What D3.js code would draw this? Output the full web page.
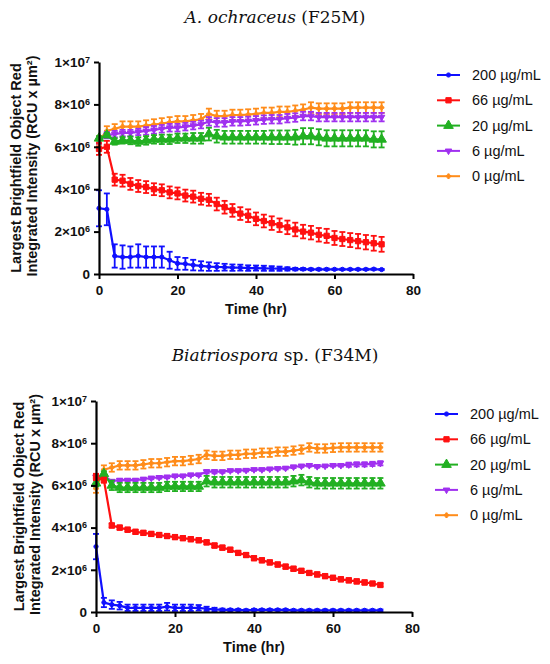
<!DOCTYPE html>
<html>
<head>
<meta charset="utf-8">
<script src="https://cdn.jsdelivr.net/npm/d3@7"></script>
<style>
  body { margin: 0; background: #fff; }
  svg { display: block; font-family: "Liberation Sans", Arial, sans-serif; }
</style>
</head>
<body>
<script>
// sampling times (hr)
const hours = [0, 2, 4, 6, 8, 10, 12, 14, 16, 18, 20, 22, 24, 26, 28, 30, 32, 34, 36,
  38, 40, 42, 44, 46, 48, 50, 52, 54, 56, 58, 60, 62, 64, 66, 68, 70, 72];

const concLabels = ["200 µg/mL", "66 µg/mL", "20 µg/mL", "6 µg/mL", "0 µg/mL"];
const seriesColors = ["#1010ff", "#ff1010", "#22b022", "#a030f0", "#ff8c1a"];
const yTicks = [0, 2e6, 4e6, 6e6, 8e6, 1e7];
const xTicks = [0, 20, 40, 60, 80];

// A. ochraceus (F25M), values in 10^6 RCU x µm²
const f25m200 = [3.1, 3.05, 0.85, 0.8, 0.8, 0.85, 0.8, 0.8, 0.8, 0.65, 0.5, 0.48, 0.42, 0.38, 0.35, 0.33, 0.32, 0.3, 0.3,
  0.28, 0.28, 0.27, 0.26, 0.25, 0.24, 0.23, 0.23, 0.22, 0.22, 0.22, 0.22, 0.22, 0.22, 0.22, 0.22, 0.23, 0.21];
const f25m200Err = [0.85, 0.75, 0.55, 0.55, 0.5, 0.55, 0.5, 0.5, 0.5, 0.4, 0.3, 0.28, 0.25, 0.22, 0.2, 0.18, 0.16, 0.15, 0.14,
  0.13, 0.12, 0.12, 0.11, 0.1, 0.08, 0.06, 0.05, 0.04, 0.04, 0.04, 0.03, 0.03, 0.03, 0.03, 0.03, 0.03, 0.03];
const f25m66 = [5.9, 6.0, 4.45, 4.4, 4.25, 4.15, 4.1, 4.0, 3.95, 3.85, 3.8, 3.7, 3.65, 3.55, 3.5, 3.3, 3.15, 3.0, 2.85,
  2.75, 2.6, 2.5, 2.4, 2.3, 2.2, 2.1, 2.0, 1.95, 1.85, 1.8, 1.7, 1.65, 1.6, 1.55, 1.5, 1.45, 1.4];
const f25m66Err = [0.28, 0.28, 0.28, 0.28, 0.28, 0.28, 0.28, 0.28, 0.28, 0.28, 0.28, 0.28, 0.28, 0.28, 0.28, 0.3, 0.3, 0.3, 0.3,
  0.3, 0.3, 0.3, 0.32, 0.32, 0.32, 0.32, 0.32, 0.32, 0.32, 0.33, 0.33, 0.33, 0.33, 0.34, 0.34, 0.35, 0.35];
const f25m20 = [6.4, 6.55, 6.25, 6.3, 6.3, 6.25, 6.3, 6.35, 6.35, 6.35, 6.4, 6.4, 6.4, 6.4, 6.6, 6.5, 6.45, 6.45, 6.45,
  6.45, 6.45, 6.45, 6.45, 6.45, 6.45, 6.45, 6.5, 6.5, 6.45, 6.4, 6.4, 6.4, 6.4, 6.4, 6.4, 6.35, 6.35];
const f25m20Err = [0.1, 0.1, 0.15, 0.15, 0.18, 0.2, 0.2, 0.2, 0.22, 0.22, 0.22, 0.22, 0.25, 0.25, 0.3, 0.3, 0.3, 0.3, 0.3,
  0.3, 0.3, 0.3, 0.32, 0.32, 0.32, 0.35, 0.38, 0.38, 0.38, 0.38, 0.38, 0.38, 0.38, 0.38, 0.38, 0.38, 0.38];
const f25m6 = [6.3, 6.55, 6.6, 6.65, 6.65, 6.7, 6.75, 6.8, 6.85, 6.9, 6.9, 6.95, 7.0, 7.05, 7.2, 7.15, 7.15, 7.2, 7.2,
  7.22, 7.25, 7.28, 7.3, 7.3, 7.35, 7.38, 7.45, 7.45, 7.4, 7.4, 7.4, 7.4, 7.4, 7.4, 7.4, 7.4, 7.4];
const f25m6Err = [0.15, 0.15, 0.15, 0.15, 0.15, 0.15, 0.18, 0.18, 0.18, 0.18, 0.18, 0.18, 0.18, 0.18, 0.2, 0.2, 0.2, 0.2, 0.2,
  0.2, 0.2, 0.2, 0.2, 0.2, 0.2, 0.2, 0.2, 0.2, 0.2, 0.2, 0.2, 0.2, 0.2, 0.2, 0.2, 0.2, 0.2];
const f25m0 = [6.3, 6.75, 6.85, 6.95, 6.95, 6.95, 7.0, 7.05, 7.1, 7.15, 7.2, 7.2, 7.25, 7.3, 7.55, 7.45, 7.45, 7.5, 7.5,
  7.52, 7.55, 7.6, 7.6, 7.65, 7.65, 7.7, 7.75, 7.85, 7.8, 7.8, 7.8, 7.8, 7.85, 7.85, 7.85, 7.85, 7.85];
const f25m0Err = [0.2, 0.22, 0.22, 0.25, 0.25, 0.25, 0.25, 0.25, 0.25, 0.25, 0.25, 0.25, 0.25, 0.25, 0.25, 0.25, 0.25, 0.25, 0.25,
  0.25, 0.25, 0.25, 0.25, 0.25, 0.25, 0.25, 0.25, 0.25, 0.25, 0.25, 0.25, 0.25, 0.25, 0.25, 0.25, 0.25, 0.25];

// Biatriospora sp. (F34M)
const f34m200 = [3.1, 0.45, 0.35, 0.3, 0.2, 0.2, 0.2, 0.2, 0.2, 0.25, 0.2, 0.2, 0.2, 0.2, 0.15, 0.12, 0.1, 0.1, 0.1,
  0.08, 0.1, 0.1, 0.1, 0.1, 0.1, 0.08, 0.08, 0.08, 0.08, 0.08, 0.08, 0.08, 0.08, 0.08, 0.08, 0.08, 0.08];
const f34m200Err = [0.6, 0.22, 0.2, 0.18, 0.15, 0.15, 0.15, 0.15, 0.15, 0.18, 0.15, 0.15, 0.15, 0.13, 0.1, 0.08, 0.06, 0.05, 0.04,
  0.04, 0.04, 0.04, 0.04, 0.04, 0.04, 0.04, 0.04, 0.04, 0.04, 0.04, 0.04, 0.04, 0.04, 0.04, 0.04, 0.04, 0.04];
const f34m66 = [6.4, 6.25, 4.1, 4.0, 3.9, 3.8, 3.75, 3.7, 3.65, 3.6, 3.55, 3.5, 3.45, 3.4, 3.3, 3.15, 3.05, 2.95, 2.8,
  2.7, 2.55, 2.45, 2.35, 2.25, 2.15, 2.05, 1.95, 1.85, 1.78, 1.7, 1.62, 1.55, 1.5, 1.45, 1.4, 1.35, 1.28];
const f34m66Err = [0.15, 0.12, 0.1, 0.1, 0.1, 0.1, 0.1, 0.1, 0.1, 0.1, 0.1, 0.1, 0.1, 0.1, 0.1, 0.1, 0.1, 0.1, 0.1,
  0.1, 0.1, 0.1, 0.1, 0.1, 0.1, 0.1, 0.1, 0.1, 0.1, 0.1, 0.1, 0.1, 0.1, 0.1, 0.1, 0.08, 0.08];
const f34m20 = [6.1, 6.55, 6.0, 5.9, 5.9, 5.9, 5.9, 5.9, 5.9, 5.95, 5.95, 5.95, 5.95, 5.95, 6.2, 6.15, 6.15, 6.15, 6.15,
  6.15, 6.15, 6.15, 6.15, 6.15, 6.15, 6.2, 6.25, 6.15, 6.1, 6.1, 6.1, 6.1, 6.1, 6.1, 6.1, 6.1, 6.1];
const f34m20Err = [0.15, 0.12, 0.22, 0.22, 0.22, 0.22, 0.22, 0.22, 0.22, 0.22, 0.22, 0.22, 0.22, 0.22, 0.25, 0.25, 0.25, 0.25, 0.25,
  0.25, 0.25, 0.25, 0.25, 0.25, 0.25, 0.25, 0.25, 0.25, 0.25, 0.25, 0.25, 0.25, 0.25, 0.25, 0.25, 0.25, 0.25];
const f34m6 = [6.4, 6.45, 6.2, 6.25, 6.25, 6.25, 6.3, 6.35, 6.38, 6.4, 6.45, 6.45, 6.5, 6.5, 6.65, 6.65, 6.65, 6.7, 6.7,
  6.72, 6.75, 6.75, 6.78, 6.8, 6.82, 6.88, 6.92, 6.95, 6.9, 6.92, 6.95, 6.95, 6.98, 7.0, 7.0, 7.02, 7.05];
const f34m6Err = [0.08, 0.08, 0.06, 0.06, 0.06, 0.06, 0.06, 0.06, 0.06, 0.06, 0.06, 0.06, 0.06, 0.06, 0.08, 0.08, 0.06, 0.06, 0.06,
  0.06, 0.06, 0.06, 0.06, 0.06, 0.06, 0.06, 0.06, 0.06, 0.06, 0.06, 0.06, 0.06, 0.1, 0.1, 0.1, 0.1, 0.1];
const f34m0 = [5.85, 6.75, 6.85, 6.95, 6.95, 6.95, 7.0, 7.05, 7.05, 7.1, 7.15, 7.15, 7.2, 7.25, 7.45, 7.4, 7.4, 7.45, 7.45,
  7.5, 7.5, 7.55, 7.55, 7.6, 7.6, 7.65, 7.7, 7.8, 7.75, 7.75, 7.78, 7.8, 7.8, 7.8, 7.8, 7.8, 7.8];
const f34m0Err = [0.2, 0.2, 0.2, 0.2, 0.2, 0.2, 0.2, 0.2, 0.2, 0.2, 0.2, 0.2, 0.2, 0.2, 0.2, 0.2, 0.2, 0.2, 0.2,
  0.2, 0.2, 0.2, 0.2, 0.2, 0.2, 0.2, 0.2, 0.2, 0.2, 0.2, 0.2, 0.2, 0.2, 0.2, 0.2, 0.2, 0.2];

const WIDTH = 550, HEIGHT = 664;
const svg = d3.select("body").append("svg").attr("width", WIDTH).attr("height", HEIGHT);

const symbols = [
  { type: d3.symbolCircle, size: 14, rot: 0 },
  { type: d3.symbolSquare, size: 28, rot: 0 },
  { type: d3.symbolTriangle, size: 40, rot: 0 },
  { type: d3.symbolTriangle, size: 18, rot: 180 },
  { type: d3.symbolCross, size: 12, rot: 0 }
];

const panels = [
  {
    italic: "A. ochraceus", rest: " (F25M)", titleY: 23,
    left: 99, right: 413, top: 62, bottom: 274,
    means: [f25m200, f25m66, f25m20, f25m6, f25m0],
    errs: [f25m200Err, f25m66Err, f25m20Err, f25m6Err, f25m0Err],
    legX: 437, legY: 75, lab1: 21, lab2: 37
  },
  {
    italic: "Biatriospora", rest: " sp. (F34M)", titleY: 361,
    left: 96, right: 412, top: 401, bottom: 612,
    means: [f34m200, f34m66, f34m20, f34m6, f34m0],
    errs: [f34m200Err, f34m66Err, f34m20Err, f34m6Err, f34m0Err],
    legX: 435, legY: 414, lab1: 24, lab2: 40
  }
];

function sciLabel(sel) {
  sel.each(function (v) {
    const t = d3.select(this).text("");
    if (v === 0) { t.text("0"); return; }
    const e = Math.floor(Math.log10(v));
    const m = Math.round(v / Math.pow(10, e));
    t.append("tspan").text(`${m}×10`);
    t.append("tspan").attr("dy", "-0.45em").attr("font-size", "9px").text(e);
  });
}

panels.forEach(p => {
  const g = svg.append("g");
  const x = d3.scaleLinear().domain([0, 80]).range([p.left, p.right]);
  const y = d3.scaleLinear().domain([0, 1e7]).range([p.bottom, p.top]);
  const midY = (p.top + p.bottom) / 2;

  // title
  const title = g.append("text").attr("x", 275).attr("y", p.titleY).attr("text-anchor", "middle")
    .style("font-family", "'DejaVu Serif', serif").style("font-size", "17px").attr("fill", "#111");
  title.append("tspan").style("font-style", "italic").text(p.italic);
  title.append("tspan").text(p.rest);

  // series, drawn back to front
  [4, 3, 2, 1, 0].forEach(i => {
    const pts = hours.map((h, k) => ({ h, m: p.means[i][k] * 1e6, e: p.errs[i][k] * 1e6 }));
    const col = seriesColors[i];
    const s = g.append("g");
    const bars = s.selectAll("g.err").data(pts).join("g").attr("class", "err")
      .attr("stroke", col).attr("stroke-width", 1.8);
    bars.append("line").attr("x1", d => x(d.h)).attr("x2", d => x(d.h))
      .attr("y1", d => y(d.m - d.e)).attr("y2", d => y(d.m + d.e));
    bars.append("line").attr("x1", d => x(d.h) - 3).attr("x2", d => x(d.h) + 3)
      .attr("y1", d => y(d.m + d.e)).attr("y2", d => y(d.m + d.e));
    bars.append("line").attr("x1", d => x(d.h) - 3).attr("x2", d => x(d.h) + 3)
      .attr("y1", d => y(d.m - d.e)).attr("y2", d => y(d.m - d.e));
    s.append("path").datum(pts).attr("fill", "none").attr("stroke", col).attr("stroke-width", 2.2)
      .attr("d", d3.line().x(d => x(d.h)).y(d => y(d.m)));
    const sym = symbols[i];
    s.selectAll("path.mk").data(pts).join("path").attr("class", "mk")
      .attr("d", d3.symbol().type(sym.type).size(sym.size))
      .attr("transform", d => `translate(${x(d.h)},${y(d.m)}) rotate(${sym.rot})`)
      .attr("fill", col).attr("stroke", col).attr("stroke-width", 1);
  });

  // axes
  const xAxis = g.append("g").attr("transform", `translate(0,${p.bottom})`)
    .call(d3.axisBottom(x).tickValues(xTicks).tickSize(5).tickSizeOuter(0).tickPadding(6));
  const yAxis = g.append("g").attr("transform", `translate(${p.left},0)`)
    .call(d3.axisLeft(y).tickValues(yTicks).tickSize(5).tickSizeOuter(0).tickPadding(4));
  [xAxis, yAxis].forEach(a => {
    a.select(".domain").attr("stroke", "#000").attr("stroke-width", 2.2);
    a.selectAll(".tick line").attr("stroke", "#000").attr("stroke-width", 2);
    a.selectAll(".tick text").attr("fill", "#111").style("font-size", "13.5px").style("font-weight", "bold")
      .style("font-family", "'Liberation Sans', Arial, sans-serif");
  });
  yAxis.selectAll(".tick text").call(sciLabel);

  // axis titles
  g.append("text").attr("x", (p.left + p.right) / 2).attr("y", p.bottom + 40).attr("text-anchor", "middle")
    .style("font-size", "14.5px").style("font-weight", "bold").attr("fill", "#111").text("Time (hr)");
  g.append("text").attr("transform", `translate(${p.lab1},${midY}) rotate(-90)`).attr("text-anchor", "middle")
    .style("font-size", "14.5px").style("font-weight", "bold").attr("fill", "#111")
    .text("Largest Brightfield Object Red");
  g.append("text").attr("transform", `translate(${p.lab2},${midY - 2}) rotate(-90)`).attr("text-anchor", "middle")
    .style("font-size", "14.5px").style("font-weight", "bold").attr("fill", "#111")
    .text("Integrated Intensity (RCU x µm²)");

  // legend
  const leg = g.append("g").attr("transform", `translate(${p.legX},${p.legY})`);
  concLabels.forEach((lab, i) => {
    const row = leg.append("g").attr("transform", `translate(0,${i * 25.3})`);
    row.append("line").attr("x1", 0).attr("x2", 23).attr("stroke", seriesColors[i]).attr("stroke-width", 2);
    row.append("path").attr("d", d3.symbol().type(symbols[i].type).size(symbols[i].size))
      .attr("transform", `translate(11.5,0) rotate(${symbols[i].rot})`)
      .attr("fill", seriesColors[i]).attr("stroke", seriesColors[i]);
    row.append("text").attr("x", 35).attr("y", 5).style("font-size", "14.5px").attr("fill", "#111").text(lab);
  });
});
</script>
</body>
</html>
